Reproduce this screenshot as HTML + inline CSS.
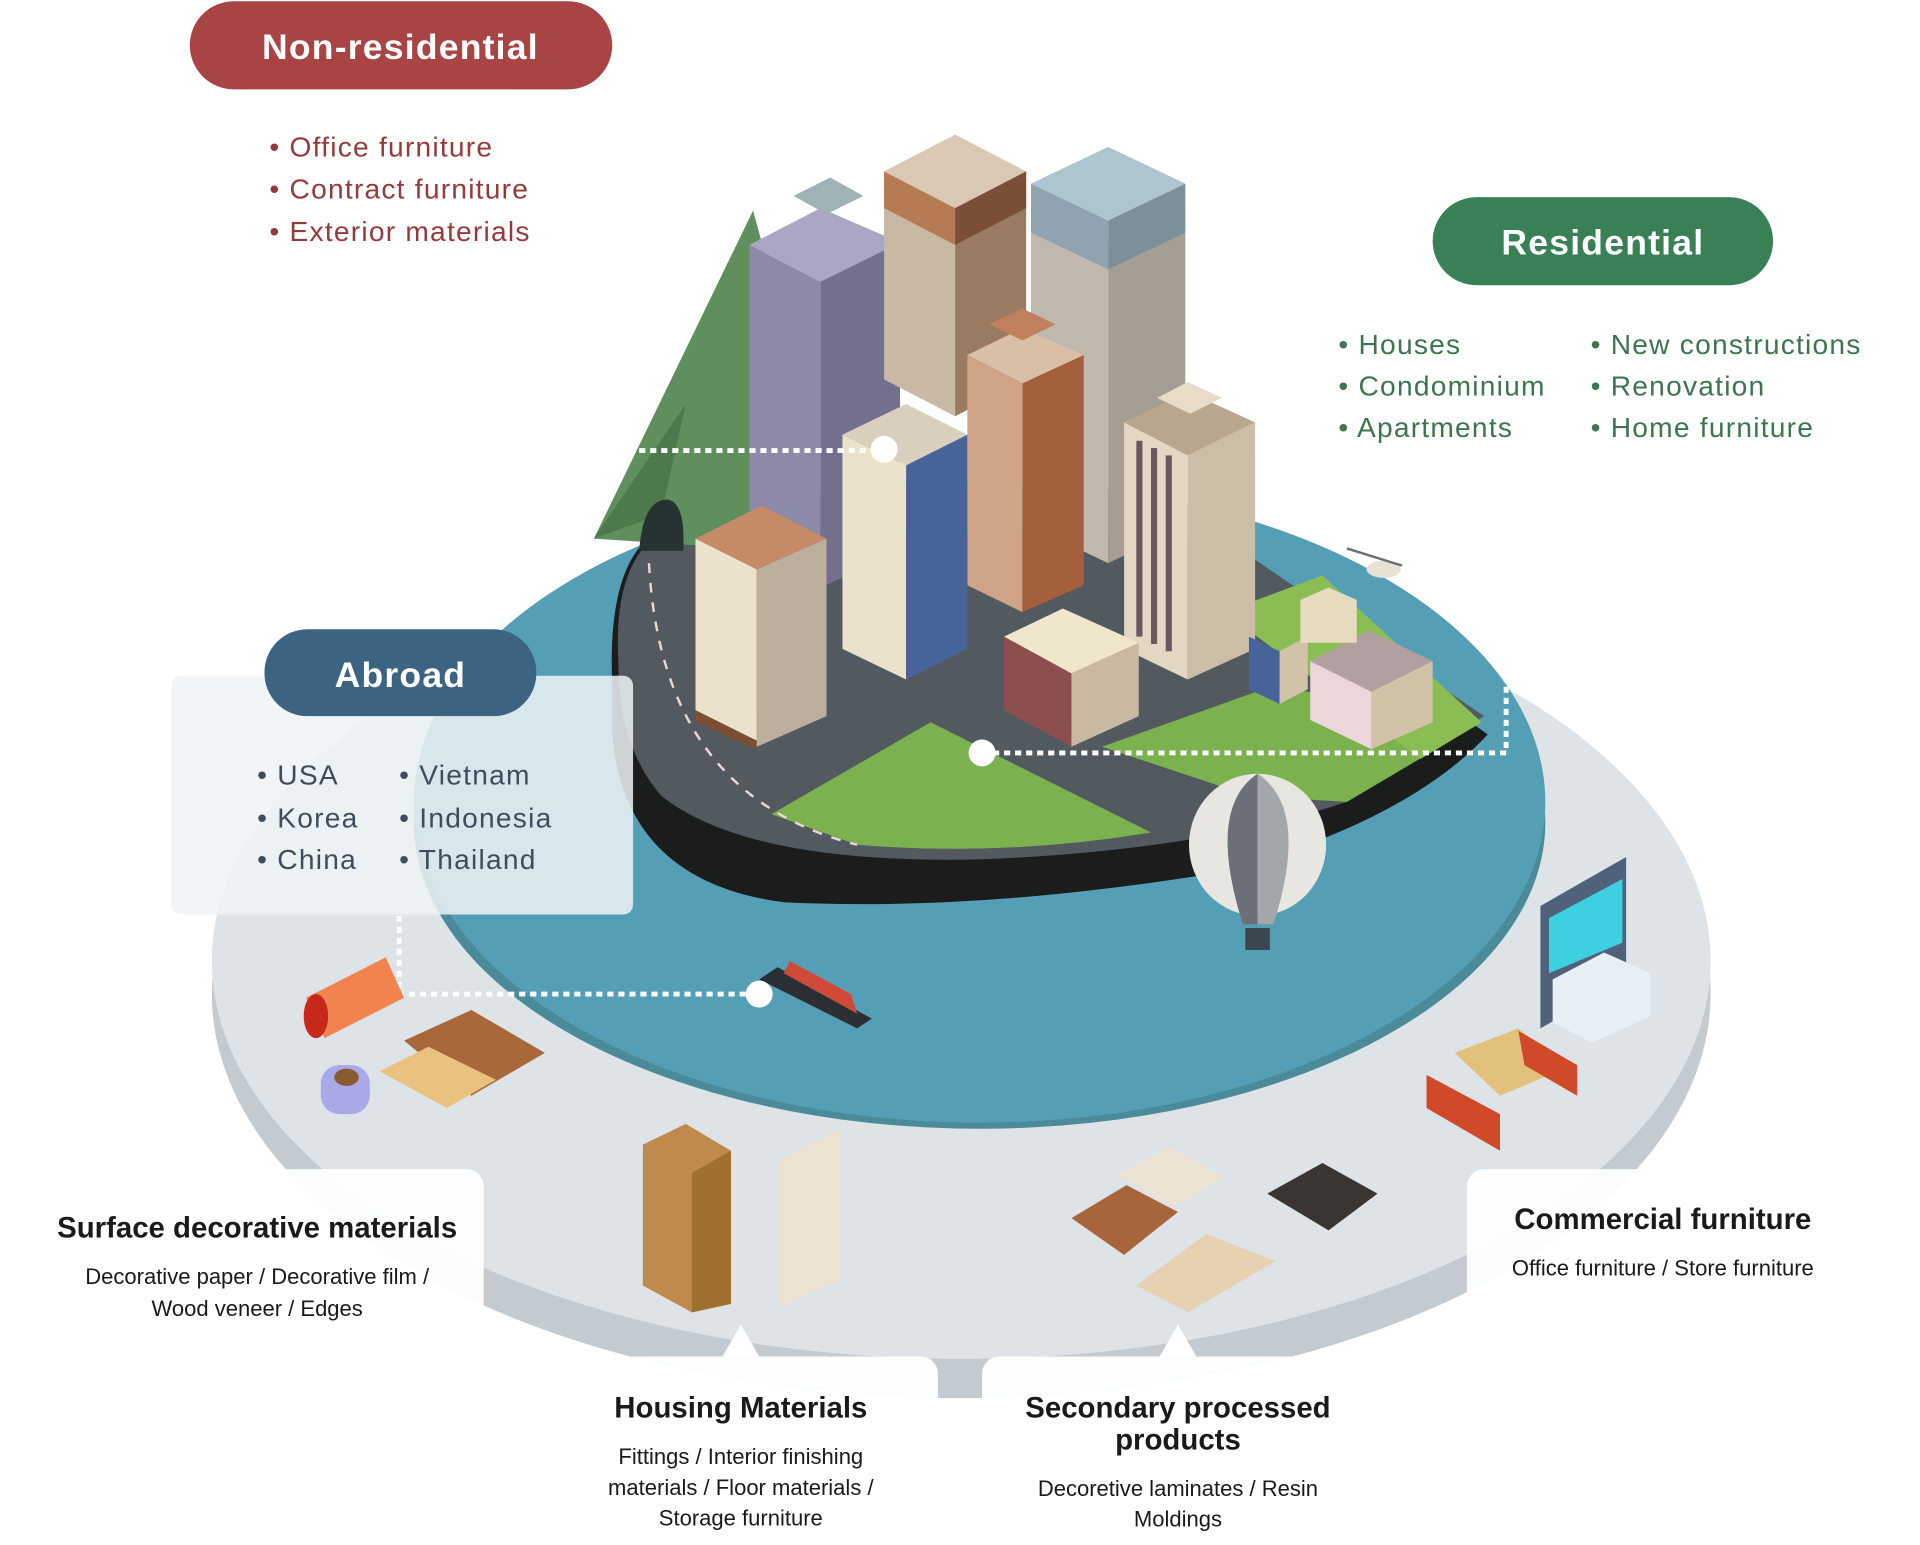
<!DOCTYPE html>
<html><head><meta charset="utf-8"><style>
html,body{margin:0;padding:0;background:#fff;}
svg{display:block}
text{font-family:"Liberation Sans",sans-serif}
</style></head><body>
<svg width="1920" height="1545" viewBox="0 0 1568 1262" preserveAspectRatio="none" xmlns="http://www.w3.org/2000/svg">
<rect width="1568" height="1262" fill="#fff"/>
<!-- base disc -->
<ellipse cx="785" cy="812" rx="612" ry="330" fill="#c4cbd0"/>
<ellipse cx="785" cy="785" rx="612" ry="325" fill="#dde3e7"/>
<!-- water -->
<ellipse cx="800" cy="672" rx="462" ry="250" fill="#4b8a98"/>
<ellipse cx="800" cy="655" rx="462" ry="262" fill="#559fb6"/>
<!-- island -->
<path d="M500,560 Q495,450 545,430 L1000,445 L1215,600 Q1150,670 1000,712 Q800,745 640,737 Q510,720 500,600Z" fill="#1b1d1d"/>
<path d="M505,540 Q500,450 550,430 L1000,440 L1212,585 L1100,655 Q980,695 800,702 Q610,706 540,650 Q505,610 505,540Z" fill="#525a60"/>
<path d="M630,665 L760,590 L940,680 Q820,700 700,690Z" fill="#7bb24f"/>
<path d="M900,610 L1040,560 L1210,590 L1100,655 L1020,650Z" fill="#7bb24f"/>
<path d="M1000,500 L1080,470 L1210,590 L1160,620Z" fill="#8bbd55"/>
<path d="M530,460 Q540,650 700,690" fill="none" stroke="#e8d8d0" stroke-width="2" stroke-dasharray="8,8"/>
<!-- mountain -->
<path d="M485,440 L615,172 L650,300 L640,450 Z" fill="#5e8f5c"/>
<path d="M485,440 L560,330 L540,420Z" fill="#4c7a4c"/>
<path d="M522,450 Q525,408 545,408 Q560,410 558,450Z" fill="#263332"/>
<!-- buildings -->
<g stroke="none">
<polygon points="612,200 670,230 670,480 612,450" fill="#8d8aa8"/>
<polygon points="670,230 735,198 735,450 670,480" fill="#73708f"/>
<polygon points="612,200 670,170 735,198 670,230" fill="#a9a7c4"/>
<polygon points="648,160 678,145 705,160 675,175" fill="#9fb3b6"/>
<polygon points="722,140 780,170 780,340 722,310" fill="#c9b9a4"/>
<polygon points="780,170 838,140 838,310 780,340" fill="#9a7a60"/>
<polygon points="722,140 780,110 838,140 780,170" fill="#d8c8b4"/>
<polygon points="722,140 780,170 780,200 722,170" fill="#b67a54"/>
<polygon points="780,170 838,140 838,170 780,200" fill="#7b4e37"/>
<polygon points="842,170 905,200 905,460 842,430" fill="#c0b8ac"/>
<polygon points="905,200 968,170 968,430 905,460" fill="#a69e93"/>
<polygon points="842,150 905,180 905,220 842,190" fill="#8fa4b0"/>
<polygon points="905,180 968,150 968,190 905,220" fill="#7b909b"/>
<polygon points="842,150 905,120 968,150 905,180" fill="#aec4cf"/>
<polygon points="790,290 835,313 835,500 790,478" fill="#cfa486"/>
<polygon points="835,313 885,290 885,478 835,500" fill="#a45f3c"/>
<polygon points="790,290 835,268 885,290 835,313" fill="#d8bfa6"/>
<polygon points="808,265 835,252 862,265 835,278" fill="#c08060"/>
<polygon points="688,355 740,380 740,555 688,530" fill="#ece2cc"/>
<polygon points="740,380 790,355 790,530 740,555" fill="#46639a"/>
<polygon points="688,355 740,330 790,355 740,380" fill="#d9cfbd"/>
<polygon points="918,345 970,372 970,555 918,530" fill="#e3d7c3"/>
<polygon points="970,372 1025,345 1025,530 970,555" fill="#cbbda6"/>
<polygon points="918,345 970,320 1025,345 970,372" fill="#b9a68e"/>
<polygon points="945,325 970,312 998,325 972,338" fill="#e8dcc8"/>
<g fill="#6a5860"><rect x="928" y="360" width="5" height="160"/><rect x="940" y="366" width="5" height="160"/><rect x="952" y="372" width="5" height="160"/></g>
<polygon points="568,440 618,465 618,610 568,585" fill="#ece2cc"/>
<polygon points="618,465 675,440 675,585 618,610" fill="#bcaf9e"/>
<polygon points="568,440 622,413 675,440 618,465" fill="#c58a67"/>
<polygon points="568,580 618,605 618,612 568,590" fill="#7a4f33"/>
<polygon points="820,520 875,550 875,610 820,580" fill="#8d4e4e"/>
<polygon points="875,550 930,525 930,585 875,610" fill="#c9b8a2"/>
<polygon points="820,520 868,497 930,525 875,550" fill="#f0e6cc"/>
<polygon points="1020,520 1045,532 1045,575 1020,563" fill="#46639a"/>
<polygon points="1045,532 1068,520 1068,563 1045,575" fill="#d0c3a8"/>
<polygon points="1070,540 1120,565 1120,612 1070,588" fill="#ecd6da"/>
<polygon points="1120,565 1170,540 1170,590 1120,612" fill="#d0c3a8"/>
<polygon points="1070,540 1118,515 1170,540 1120,565" fill="#b0a0a0"/>
<polygon points="1062,490 1085,480 1108,490 1108,525 1062,525" fill="#e8dcc0"/>
</g>
<!-- helicopter -->
<ellipse cx="1130" cy="465" rx="14" ry="7" fill="#e8e2d4"/>
<line x1="1100" y1="448" x2="1145" y2="462" stroke="#6b7078" stroke-width="2"/>
<!-- balloon -->
<ellipse cx="1027" cy="690" rx="56" ry="58" fill="#e8e6e0"/>
<path d="M1027,632 Q985,660 1015,755 L1027,755Z" fill="#6b7078"/>
<path d="M1027,632 Q1070,660 1040,755 L1027,755Z" fill="#a3a6ab"/>
<rect x="1017" y="758" width="20" height="18" fill="#3a4650"/>
<!-- ship -->
<path d="M620,800 L700,840 L712,832 L635,790Z" fill="#2a2e35"/>
<path d="M640,795 L700,828 L695,812 L645,785Z" fill="#d04a3a"/>
<!-- Connectors -->
<g stroke="#fff" stroke-width="4" stroke-dasharray="5,4" fill="none">
<path d="M326,240 L326,368 L722,368"/>
<path d="M802,615 L1230,615 L1230,400"/>
<path d="M326,748 L326,812 L620,812"/>
</g>
<circle cx="722" cy="367" r="11" fill="#fff"/>
<circle cx="802" cy="615" r="11" fill="#fff"/>
<circle cx="620" cy="812" r="11" fill="#fff"/>
<!-- items bottom-left -->
<path d="M250,815 L315,782 L330,815 L265,848Z" fill="#f0834f"/>
<ellipse cx="258" cy="830" rx="10" ry="18" fill="#c8281c"/>
<rect x="262" y="870" width="40" height="40" rx="15" fill="#a9a9e8"/>
<ellipse cx="283" cy="880" rx="10" ry="7" fill="#8a5a30"/>
<polygon points="330,850 385,825 445,860 385,895" fill="#a8683a"/>
<polygon points="310,875 350,855 405,882 365,905" fill="#e8c27e"/>
<!-- furniture bottom -->
<polygon points="525,935 560,918 597,940 597,1065 565,1072 525,1050" fill="#c08a4c"/>
<polygon points="565,958 597,940 597,1065 565,1072" fill="#a0702f"/>
<polygon points="636,948 686,922 686,1045 636,1068" fill="#ede2cf"/>
<polygon points="875,995 920,968 962,990 918,1025" fill="#a8643a"/>
<polygon points="912,960 955,937 1000,962 958,985" fill="#ede3d2"/>
<polygon points="928,1050 985,1008 1042,1030 970,1072" fill="#e6d2b0"/>
<polygon points="1035,975 1080,950 1125,975 1085,1005" fill="#3a3533"/>
<!-- commercial furniture -->
<polygon points="1258,740 1328,700 1328,800 1258,840" fill="#50627a"/>
<polygon points="1265,750 1325,718 1325,770 1265,795" fill="#3dd0e0"/>
<polygon points="1268,800 1310,778 1348,795 1348,830 1300,852 1268,835" fill="#e8f0f5"/>
<polygon points="1188,860 1240,840 1280,872 1225,895" fill="#e2c27a"/>
<polygon points="1165,878 1225,910 1225,940 1165,905" fill="#d04a2a"/>
<polygon points="1240,842 1288,870 1288,895 1245,870" fill="#d04a2a"/>
<!-- Label boxes -->
<rect x="140" y="552" width="377" height="195" rx="8" fill="#eef3f6" fill-opacity="0.85"/>
<rect x="25" y="955" width="370" height="150" rx="14" fill="#fff" fill-opacity="0.93"/>
<rect x="450" y="1108" width="316" height="154" rx="14" fill="#fff" fill-opacity="0.95"/>
<polygon points="590,1108 605,1082 620,1108" fill="#fff"/>
<rect x="802" y="1108" width="316" height="154" rx="14" fill="#fff" fill-opacity="0.95"/>
<polygon points="947,1108 962,1082 977,1108" fill="#fff"/>
<rect x="1198" y="955" width="320" height="118" rx="14" fill="#fff" fill-opacity="0.93"/>
<!-- Pills -->
<rect x="155" y="1" width="345" height="72" rx="36" fill="#a84444"/>
<text x="327" y="48" text-anchor="middle" font-size="29" font-weight="bold" fill="#fff" letter-spacing="1">Non-residential</text>
<rect x="1170" y="161" width="278" height="72" rx="36" fill="#3a8057"/>
<text x="1309" y="208" text-anchor="middle" font-size="29" font-weight="bold" fill="#fff" letter-spacing="1">Residential</text>
<rect x="216" y="514" width="222" height="71" rx="35" fill="#3c6482"/>
<text x="327" y="561" text-anchor="middle" font-size="29" font-weight="bold" fill="#fff" letter-spacing="1">Abroad</text>
<!-- lists -->
<g font-size="23" fill="#953a3a" letter-spacing="1">
<text x="220" y="128">• Office furniture</text>
<text x="220" y="162">• Contract furniture</text>
<text x="220" y="197">• Exterior materials</text>
</g>
<g font-size="23" fill="#3c7550" letter-spacing="1">
<text x="1093" y="289">• Houses</text>
<text x="1093" y="323">• Condominium</text>
<text x="1093" y="357">• Apartments</text>
<text x="1299" y="289">• New constructions</text>
<text x="1299" y="323">• Renovation</text>
<text x="1299" y="357">• Home furniture</text>
</g>
<g font-size="23" fill="#3e4d5c" letter-spacing="1">
<text x="210" y="641">• USA</text>
<text x="210" y="676">• Korea</text>
<text x="210" y="710">• China</text>
<text x="326" y="641">• Vietnam</text>
<text x="326" y="676">• Indonesia</text>
<text x="326" y="710">• Thailand</text>
</g>
<g text-anchor="middle" fill="#1a1a1a">
<text x="210" y="1011" font-size="24" font-weight="bold">Surface decorative materials</text>
<text x="210" y="1049" font-size="18">Decorative paper / Decorative film /</text>
<text x="210" y="1075" font-size="18">Wood veneer /  Edges</text>
<text x="605" y="1158" font-size="24" font-weight="bold">Housing Materials</text>
<text x="605" y="1196" font-size="18">Fittings  / Interior finishing</text>
<text x="605" y="1221" font-size="18">materials / Floor materials /</text>
<text x="605" y="1246" font-size="18">Storage furniture</text>
<text x="962" y="1158" font-size="24" font-weight="bold">Secondary processed</text>
<text x="962" y="1184" font-size="24" font-weight="bold">products</text>
<text x="962" y="1222" font-size="18">Decoretive laminates / Resin</text>
<text x="962" y="1247" font-size="18">Moldings</text>
<text x="1358" y="1004" font-size="24" font-weight="bold">Commercial furniture</text>
<text x="1358" y="1042" font-size="18">Office furniture / Store furniture</text>
</g>
</svg>
</body></html>
